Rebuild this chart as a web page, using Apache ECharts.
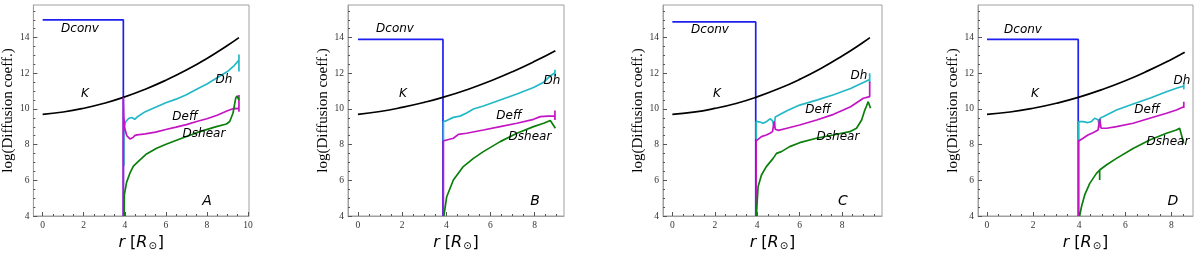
<!DOCTYPE html>
<html><head><meta charset="utf-8">
<script src="https://cdn.jsdelivr.net/npm/echarts@6/dist/echarts.min.js"></script>
<style>html,body{margin:0;padding:0;background:#fff}#c{width:1200px;height:257px}</style>
</head><body><div id="c"></div>
<script>
// ---------- data ----------
const panelNames = ['A', 'B', 'C', 'D'];
const xTicksA = [0, 2, 4, 6, 8, 10];
const xTicksBCD = [0, 2, 4, 6, 8];
const yTicks = [4, 6, 8, 10, 12, 14];
const curveNames = ['Dconv', 'K', 'Dh', 'Deff', 'Dshear'];

// Panel A
const dconvA = [[0,15],[3.93,15],[3.93,4]];
const kA = [[0,9.70],[1,9.83],[2,10.04],[3,10.32],[3.93,10.65],[5,11.11],[6,11.61],[7,12.18],[8,12.83],[9,13.56],[9.56,14.0]];
const dhA = [[3.96,6.8],[3.96,9.0],[4.05,9.3],[4.2,9.48],[4.35,9.52],[4.48,9.42],[4.6,9.55],[5.0,9.85],[5.5,10.1],[6.0,10.35],[6.5,10.55],[7.0,10.8],[7.5,11.1],[8.0,11.4],[8.5,11.75],[9.0,12.1],[9.3,12.4],[9.56,12.75],[9.56,12.1],[9.56,13.05]];
const deffA = [[3.93,4],[3.93,10.65],[3.95,9.6],[4.0,8.9],[4.1,8.5],[4.25,8.32],[4.4,8.4],[4.5,8.52],[4.6,8.55],[5.0,8.6],[5.5,8.7],[6.0,8.85],[6.5,8.98],[7.0,9.12],[7.5,9.3],[8.0,9.45],[8.5,9.65],[9.0,9.9],[9.3,10.03],[9.56,10.02],[9.56,10.78],[9.56,9.85]];
const dshearA = [[3.97,4],[3.98,5.2],[4.09,5.9],[4.25,6.4],[4.42,6.8],[4.74,7.15],[5.06,7.48],[5.55,7.8],[6.04,8.04],[6.84,8.39],[7.65,8.73],[8.46,9.01],[8.95,9.16],[9.11,9.3],[9.27,9.76],[9.4,10.6],[9.47,10.73],[9.56,10.5]];

// Panel B
const dconvB = [[0,13.9],[3.85,13.9],[3.85,4]];
const kB = [[0,9.70],[1,9.86],[2,10.09],[3,10.37],[3.84,10.65],[5,11.11],[6,11.57],[7,12.09],[8,12.67],[8.94,13.27]];
const dhB = [[3.87,8.2],[3.87,9.29],[4.02,9.35],[4.32,9.53],[4.62,9.6],[4.92,9.78],[5.23,10.0],[5.68,10.17],[6.44,10.5],[7.2,10.84],[7.95,11.2],[8.41,11.5],[8.71,11.85],[8.92,12.04],[8.92,12.2],[8.92,11.85]];
const deffB = [[3.87,4],[3.87,8.21],[4.02,8.26],[4.32,8.36],[4.55,8.58],[4.92,8.64],[5.68,8.82],[6.44,9.01],[7.2,9.2],[7.95,9.42],[8.26,9.57],[8.6,9.6],[8.92,9.61],[8.92,9.91],[8.92,9.38]];
const dshearB = [[3.89,4],[4.02,5.08],[4.32,6.02],[4.77,6.77],[5.23,7.23],[5.68,7.61],[6.44,8.17],[7.2,8.64],[7.95,9.01],[8.41,9.2],[8.71,9.35],[8.79,9.38],[8.94,8.92]];

// Panel C
const dconvC = [[0,14.88],[3.93,14.88],[3.93,4]];
const kC = [[0,9.70],[1,9.82],[2,10.03],[3,10.31],[3.93,10.65],[5,11.13],[6,11.66],[7,12.27],[8,12.97],[9,13.74],[9.31,14.0]];
const dhC = [[3.95,8.3],[3.95,9.3],[4.1,9.28],[4.28,9.2],[4.45,9.3],[4.6,9.45],[4.72,9.35],[4.8,8.95],[4.85,9.55],[5.0,9.65],[5.4,9.9],[6.0,10.22],[6.8,10.5],[7.6,10.8],[8.4,11.15],[9.0,11.48],[9.3,11.65],[9.3,12.0],[9.3,11.45]];
const deffC = [[3.95,4],[3.95,8.21],[4.04,8.3],[4.2,8.45],[4.43,8.54],[4.6,8.64],[4.72,8.73],[4.8,9.3],[4.85,8.86],[5.0,8.8],[5.4,8.92],[6.0,9.1],[6.8,9.38],[7.6,9.7],[8.4,10.13],[9.0,10.6],[9.3,10.69],[9.3,11.53],[9.3,10.69]];
const dshearC = [[3.96,4],[4.04,5.64],[4.2,6.3],[4.43,6.77],[4.75,7.23],[4.91,7.51],[5.14,7.61],[5.53,7.89],[6.0,8.11],[6.79,8.36],[7.58,8.54],[8.36,8.73],[8.68,8.92],[8.92,9.38],[9.07,9.94],[9.15,10.17],[9.23,10.41],[9.34,10.04]];

// Panel D
const dconvD = [[0,13.9],[3.96,13.9],[3.96,4]];
const kD = [[0,9.70],[1,9.83],[2,10.04],[3,10.32],[3.96,10.65],[5,11.09],[6,11.58],[7,12.15],[8,12.78],[8.58,13.18]];
const dhD = [[3.98,8.26],[3.98,9.29],[4.17,9.29],[4.38,9.24],[4.53,9.29],[4.67,9.48],[4.82,9.4],[4.89,8.95],[4.92,9.5],[5.04,9.57],[5.62,9.94],[6.34,10.28],[7.06,10.6],[7.79,10.97],[8.22,11.16],[8.54,11.29],[8.54,11.44],[8.54,11.1]];
const deffD = [[3.98,4],[3.98,8.21],[4.17,8.36],[4.38,8.54],[4.6,8.67],[4.82,8.82],[4.89,9.45],[4.95,8.92],[5.2,8.92],[5.62,9.01],[6.34,9.2],[7.06,9.48],[7.79,9.76],[8.22,9.94],[8.54,10.13],[8.54,10.41],[8.54,10.05]];
const dshearD = [[4.02,4],[4.1,4.52],[4.24,5.18],[4.46,5.83],[4.75,6.39],[4.89,6.58],[4.89,6.02],[4.89,6.58],[5.18,6.86],[5.62,7.23],[6.34,7.79],[7.06,8.26],[7.79,8.64],[8.22,8.82],[8.36,8.92],[8.44,8.85],[8.54,8.07]];

// ---------- layout / style ----------
const panels = [
  {grid:{left:33, top:5, width:216, height:211}, xr:[-0.45,10.05], xt:xTicksA, data:[dconvA,kA,dhA,deffA,dshearA],
   labels:[[80,29],[85,94],[224,80],[185,117],[204,134],[207,201]]},
  {grid:{left:348, top:5, width:216, height:211}, xr:[-0.45,9.33], xt:xTicksBCD, data:[dconvB,kB,dhB,deffB,dshearB],
   labels:[[395,29],[403,94],[552,81],[509,116],[530,137],[535,201]]},
  {grid:{left:663, top:5, width:219, height:211}, xr:[-0.44,9.88], xt:xTicksBCD, data:[dconvC,kC,dhC,deffC,dshearC],
   labels:[[710,30],[717,94],[859,76],[818,110],[838,137],[843,201]]},
  {grid:{left:978, top:5, width:215, height:211}, xr:[-0.39,8.94], xt:xTicksBCD, data:[dconvD,kD,dhD,deffD,dshearD],
   labels:[[1023,30],[1035,94],[1182,81],[1147,110],[1168,142],[1173,201]]}
];
const colors = ['#1f1ff0', '#000000', '#22b8c6', '#c414c4', '#0b7f0b'];
const frame = '#a0a0a0';
const serif = '"Liberation Serif", "DejaVu Serif", serif';
const sans = '"DejaVu Sans", Verdana, sans-serif';

function minorVals(a, b) { const v = []; for (let t = a; t <= b + 1e-9; t += 0.5) v.push(+t.toFixed(2)); return v; }

const grids = [], xAxes = [], yAxes = [], series = [], graphics = [];
panels.forEach((p, i) => {
  grids.push(Object.assign({show:true, borderColor:frame, borderWidth:1, backgroundColor:'transparent'}, p.grid));
  const xMaxTick = Math.floor(p.xr[1] * 2) / 2;
  // major x
  xAxes.push({type:'value', gridIndex:i, min:p.xr[0], max:p.xr[1], position:'bottom',
    name:'{i|r} [{i|R}{s|⊙}]', nameLocation:'middle', nameGap:13,
    nameTextStyle:{fontFamily:sans, fontSize:16, color:'#000',
      rich:{i:{fontFamily:sans, fontStyle:'italic', fontSize:16, color:'#000'},
            s:{fontFamily:sans, fontSize:10, color:'#000', padding:[8,1,0,1]}}},
    axisLine:{show:true, onZero:false, lineStyle:{color:frame, width:1}},
    axisTick:{show:true, inside:true, length:4, customValues:p.xt, lineStyle:{color:'#555'}},
    axisLabel:{show:true, customValues:p.xt, margin:4, fontFamily:serif, fontSize:9.5, color:'#333'},
    splitLine:{show:false}});
  // minor x
  xAxes.push({type:'value', gridIndex:i, min:p.xr[0], max:p.xr[1], position:'bottom',
    axisLine:{show:false, onZero:false}, axisLabel:{show:false},
    axisTick:{show:true, inside:true, length:2, customValues:minorVals(0, xMaxTick), lineStyle:{color:'#555'}},
    splitLine:{show:false}});
  // major y
  yAxes.push({type:'value', gridIndex:i, min:4, max:15.83, position:'left',
    name:'log(Diffusion coeff.)', nameLocation:'middle', nameGap:16, nameRotate:90,
    nameTextStyle:{fontFamily:serif, fontSize:15, color:'#000'},
    axisLine:{show:true, onZero:false, lineStyle:{color:frame, width:1}},
    axisTick:{show:true, inside:true, length:4, customValues:yTicks, lineStyle:{color:'#555'}},
    axisLabel:{show:true, customValues:yTicks, margin:4, fontFamily:serif, fontSize:9.5, color:'#333'},
    splitLine:{show:false}});
  // minor y
  yAxes.push({type:'value', gridIndex:i, min:4, max:15.83, position:'left',
    axisLine:{show:false, onZero:false}, axisLabel:{show:false},
    axisTick:{show:true, inside:true, length:2, customValues:minorVals(4, 15.5), lineStyle:{color:'#555'}},
    splitLine:{show:false}});

  p.data.forEach((d, j) => {
    series.push({type:'line', name:curveNames[j] + panelNames[i], xAxisIndex:2*i, yAxisIndex:2*i,
      data:d, showSymbol:false, symbol:'none', smooth:(j === 1), animation:false,
      lineStyle:{color:colors[j], width:1.7}, z:2 + j});
  });

  const texts = curveNames.concat([panelNames[i]]);
  p.labels.forEach((pos, k) => {
    graphics.push({type:'text', x:pos[0], y:pos[1], z:100,
      style:{text:texts[k], fill:'#000', font:(k === 5 ? 'italic 14px ' : 'italic 12px ') + sans,
        align:'center', verticalAlign:'middle'}});
  });
});

const chart = echarts.init(document.getElementById('c'), null, {renderer:'canvas'});
chart.setOption({backgroundColor:'#fff', animation:false, grid:grids, xAxis:xAxes, yAxis:yAxes, series:series, graphic:graphics});
</script></body></html>
